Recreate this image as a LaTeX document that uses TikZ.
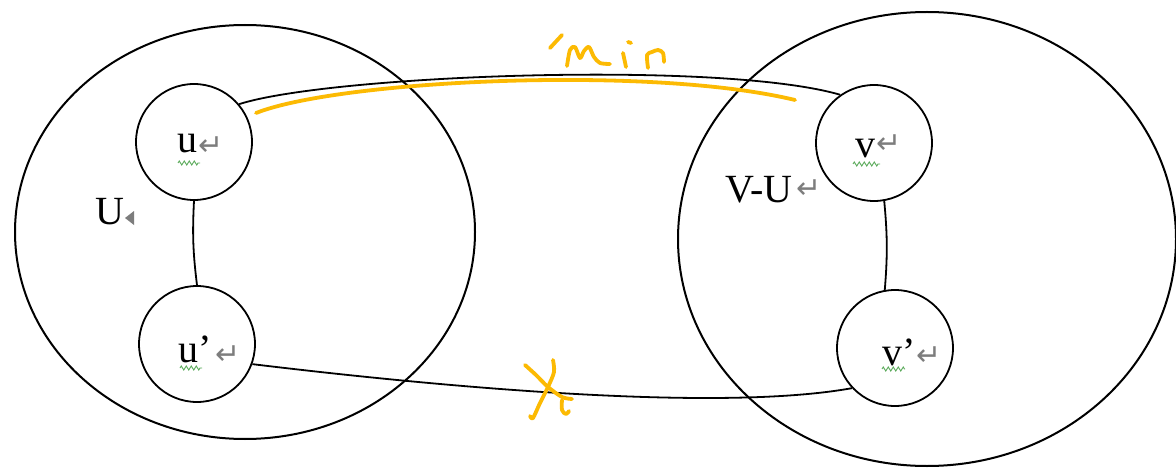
\documentclass[tikz,border=0pt]{standalone}
\usepackage{fontspec}
\setmainfont{Liberation Serif}
\newfontfamily\symfont{DejaVu Sans}
\usetikzlibrary{decorations.pathmorphing}
\definecolor{hl}{RGB}{252,186,3}
\definecolor{retgray}{RGB}{125,125,125}
\definecolor{spell}{RGB}{90,170,90}
\begin{document}
\begin{tikzpicture}[x=1pt,y=-1pt,
  set/.style={draw,line width=2pt},
  vert/.style={draw,circle,line width=1.8pt,minimum size=116pt,inner sep=0pt},
  edge/.style={line width=1.8pt},
  lbl/.style={font=\fontsize{40}{44}\selectfont,inner sep=0pt,anchor=base west},
  ret/.style={font=\symfont\fontsize{30}{32}\selectfont,text=retgray,inner sep=0pt,anchor=center},
  spellmark/.style={spell,line width=0.9pt,decorate,decoration={zigzag,segment length=5pt,amplitude=2pt}},
  pen/.style={hl,line width=3.8pt,line cap=round,line join=round}]
\useasboundingbox (0,0) rectangle (1176,468);
\fill[white] (0,0) rectangle (1176,468);

% sets
\draw[set] (245,232) ellipse [x radius=230,y radius=207];
\draw[set] (927,239) ellipse [x radius=249,y radius=227];

% vertices
\node[vert] (u) at (194,142) {};
\node[vert] (u2) at (197,344) {};
\node[vert] (v) at (874,143) {};
\node[vert] (v2) at (895,348) {};

% labels
\node[lbl] (ul) at (177,153) {u};
\node[ret] (ur) at (211,146) {↵};
\node[lbl] (u2l) at (178,362) {u’};
\node[ret] (u2r) at (228,355) {↵};
\node[lbl] (vl) at (855,158) {v};
\node[ret] (vr) at (889,144) {↵};
\node[lbl] (v2l) at (882,365) {v’};
\node[ret] (v2r) at (929,356) {↵};
\node[lbl] (Ul) at (95,225) {U};
\fill[retgray] (125,218) -- (134,211) -- (134,225) -- cycle;
\node[lbl] (VUl) at (725,202) {V-U};
\node[ret] (VUr) at (809,189) {↵};

% spelling marks
\draw[spellmark] (178,163) -- (200,163);
\draw[spellmark] (180,368) -- (202,368);
\draw[spellmark] (853,164) -- (880,164);
\draw[spellmark] (882,369) -- (905,369);

% edges
\draw[edge] (u.south) to[bend right=5] (u2.north);
\draw[edge] (v.-80) to[bend left=5] (v2.100);
\draw[edge] (u.40) .. controls (330,75) and (720,60) .. (v.125);
\draw[edge] (u2.-20) .. controls (450,388) and (720,412) .. (v2.223);

% handwritten annotations
\coordinate (hs) at (256,113);
\coordinate (he) at (795,100);
\draw[pen] (hs) .. controls (340,80) and (650,65) .. (he);
\draw[pen] (562,35) -- (550,48);
\draw[pen] plot[smooth,tension=0.5] coordinates {(567,66) (570,50) (575,47) (580,58) (584,51) (589,47) (594,57) (600,63) (610,64)};
\draw[pen] (623,53) -- (626,67);
\draw[pen] (628,42) -- (631,43);
\draw[pen] plot[smooth,tension=0.5] coordinates {(648,68) (647,55) (652,52) (658,50) (663,53) (664,62)};
\draw[pen] plot[smooth,tension=0.5] coordinates {(525,365) (536,375) (548,387) (562,397) (572,399)};
\draw[pen] plot[smooth,tension=0.6] coordinates {(562,400) (562,410) (566,414) (569,411)};
\draw[pen] plot[smooth,tension=0.5] coordinates {(553,360) (554,372) (548,387) (540,403) (533,418) (530,416)};
\end{tikzpicture}
\end{document}
